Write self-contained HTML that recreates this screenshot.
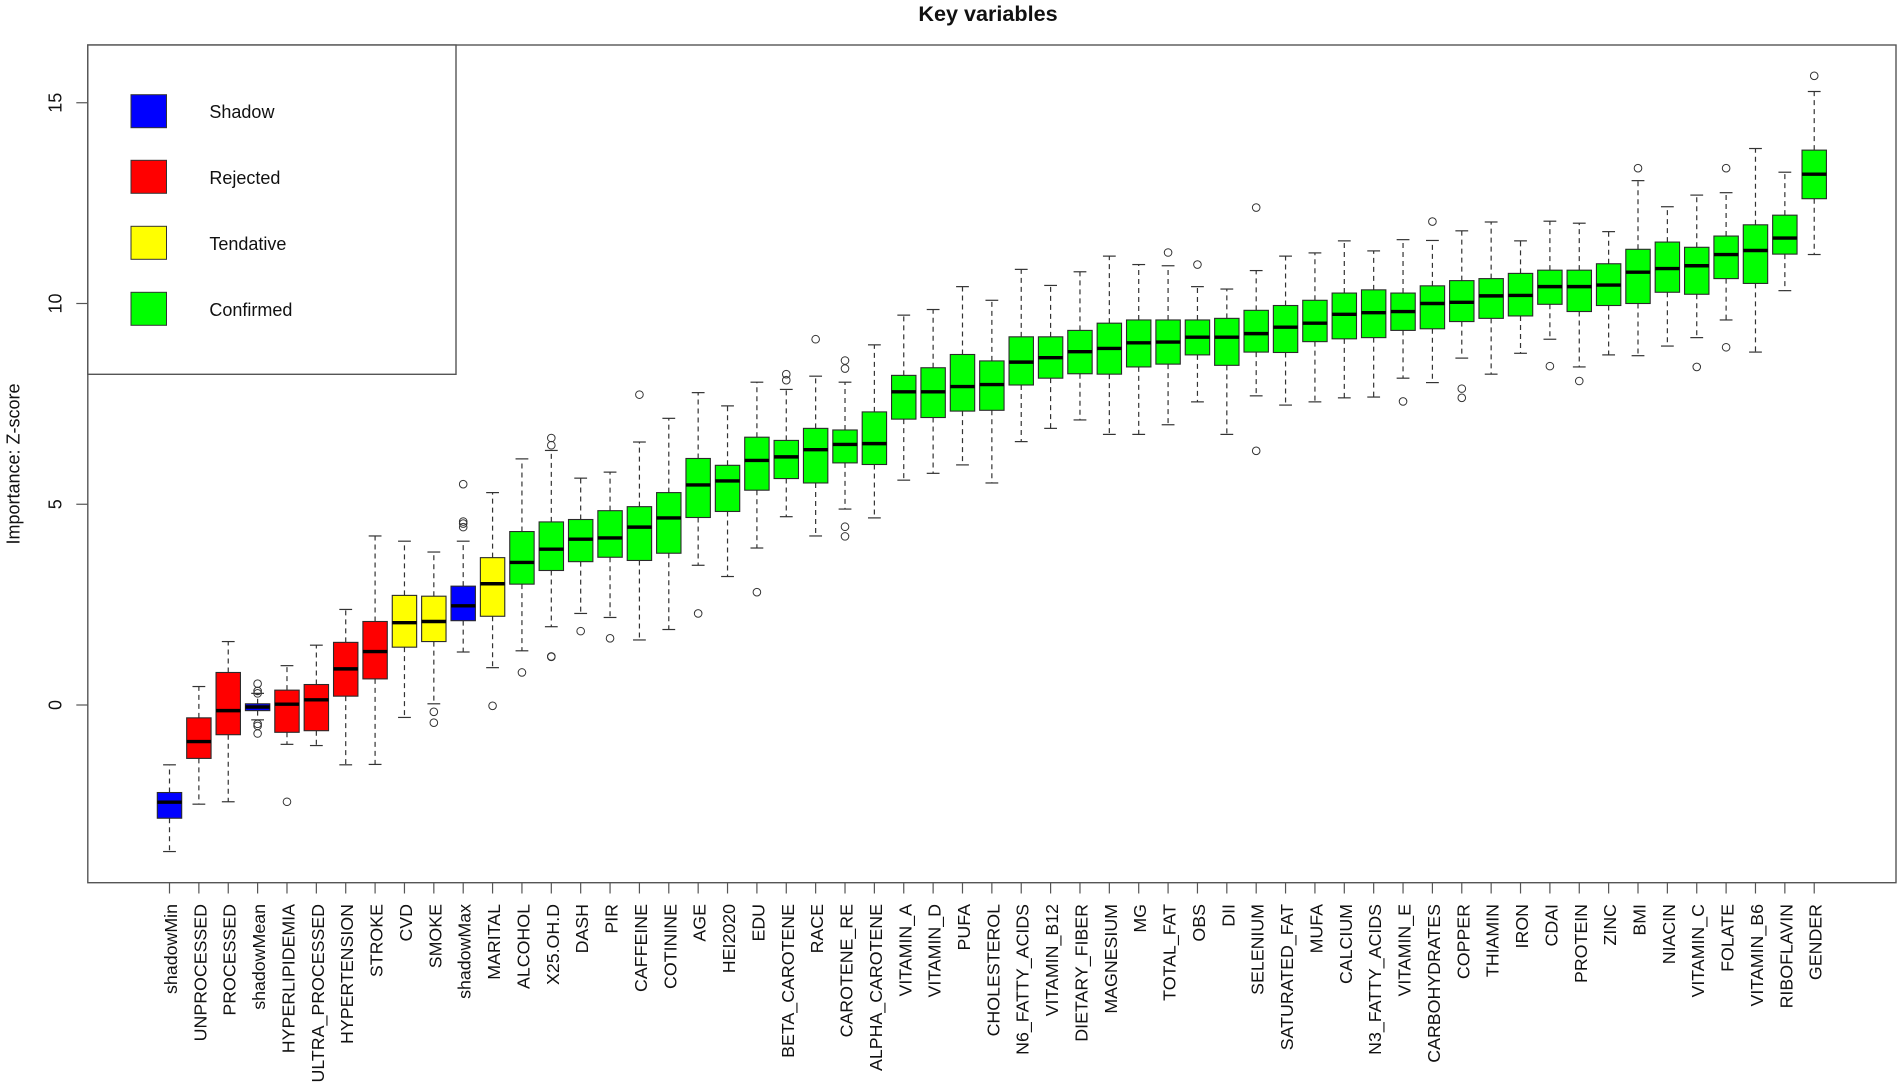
<!DOCTYPE html>
<html lang="en">
<head>
<meta charset="utf-8">
<title>Key variables</title>
<style>
html,body{margin:0;padding:0;background:#fff;}
svg{display:block;font-family:"Liberation Sans",Arial,sans-serif;filter:blur(0.3px);}
text{fill:#111;}
</style>
</head>
<body>
<svg id="chart" xmlns="http://www.w3.org/2000/svg" width="1902" height="1089" viewBox="0 0 1902 1089">
  <rect x="0" y="0" width="1902" height="1089" fill="#fff"/>
  <text x="988" y="21" font-size="21.6" font-weight="bold" text-anchor="middle">Key variables</text>
  <text transform="translate(19.5,464) rotate(-90)" font-size="18" text-anchor="middle">Importance: Z-score</text>
  <g id="marks"></g>
  <g id="y-axis"></g>
  <g id="x-axis"></g>
  <rect x="87.8" y="45" width="1808.2" height="837.7" fill="none" stroke="#555" stroke-width="1.4"/>
  <g>
    <rect x="87.8" y="45" width="368.2" height="329.3" fill="#fff" stroke="#555" stroke-width="1.4"/>
    <rect x="131" y="94.7" width="35.5" height="33" fill="#0000ff" stroke="#333" stroke-width="1"/>
    <text x="209.4" y="118" font-size="18">Shadow</text>
    <rect x="131" y="160.3" width="35.5" height="33" fill="#ff0000" stroke="#333" stroke-width="1"/>
    <text x="209.4" y="184" font-size="18">Rejected</text>
    <rect x="131" y="226.3" width="35.5" height="33" fill="#ffff00" stroke="#333" stroke-width="1"/>
    <text x="209.4" y="250" font-size="18">Tendative</text>
    <rect x="131" y="292.3" width="35.5" height="33" fill="#00ff00" stroke="#333" stroke-width="1"/>
    <text x="209.4" y="316" font-size="18">Confirmed</text>
  </g>
</svg>
<script>
const categories = ["shadowMin","UNPROCESSED","PROCESSED","shadowMean","HYPERLIPIDEMIA","ULTRA_PROCESSED","HYPERTENSION","STROKE","CVD","SMOKE","shadowMax","MARITAL","ALCOHOL","X25.OH.D","DASH","PIR","CAFFEINE","COTININE","AGE","HEI2020","EDU","BETA_CAROTENE","RACE","CAROTENE_RE","ALPHA_CAROTENE","VITAMIN_A","VITAMIN_D","PUFA","CHOLESTEROL","N6_FATTY_ACIDS","VITAMIN_B12","DIETARY_FIBER","MAGNESIUM","MG","TOTAL_FAT","OBS","DII","SELENIUM","SATURATED_FAT","MUFA","CALCIUM","N3_FATTY_ACIDS","VITAMIN_E","CARBOHYDRATES","COPPER","THIAMIN","IRON","CDAI","PROTEIN","ZINC","BMI","NIACIN","VITAMIN_C","FOLATE","VITAMIN_B6","RIBOFLAVIN","GENDER"];
const decisions = ["S","R","R","S","R","R","R","R","T","T","S","T","C","C","C","C","C","C","C","C","C","C","C","C","C","C","C","C","C","C","C","C","C","C","C","C","C","C","C","C","C","C","C","C","C","C","C","C","C","C","C","C","C","C","C","C","C"];
const whiskerLow = [-3.65,-2.47,-2.41,-0.37,-0.98,-1.01,-1.49,-1.48,-0.31,0.03,1.32,0.93,1.35,1.95,2.28,2.18,1.62,1.88,3.48,3.20,3.91,4.69,4.21,4.88,4.66,5.60,5.77,5.98,5.53,6.56,6.89,7.10,6.74,6.74,6.98,7.55,6.74,7.70,7.47,7.55,7.65,7.67,8.14,8.03,8.64,8.24,8.76,9.11,8.42,8.72,8.70,8.94,9.15,9.59,8.79,10.32,11.22];
const quartile1 = [-2.82,-1.33,-0.74,-0.14,-0.68,-0.64,0.22,0.65,1.44,1.58,2.10,2.21,3.01,3.35,3.57,3.68,3.60,3.78,4.67,4.82,5.35,5.64,5.53,6.03,5.99,7.12,7.16,7.32,7.34,7.97,8.14,8.25,8.24,8.42,8.49,8.72,8.46,8.79,8.78,9.05,9.12,9.15,9.33,9.37,9.55,9.63,9.69,9.98,9.80,9.95,10.00,10.28,10.23,10.62,10.50,11.23,12.61];
const medians = [-2.42,-0.91,-0.14,-0.05,0.02,0.13,0.90,1.33,2.05,2.08,2.47,3.02,3.55,3.88,4.13,4.16,4.43,4.66,5.48,5.58,6.09,6.18,6.36,6.49,6.51,7.80,7.80,7.93,7.98,8.54,8.65,8.80,8.88,9.02,9.04,9.16,9.16,9.25,9.41,9.51,9.73,9.77,9.80,10.00,10.03,10.19,10.20,10.42,10.42,10.46,10.78,10.87,10.94,11.22,11.32,11.63,13.22];
const quartile3 = [-2.18,-0.32,0.81,0.03,0.37,0.51,1.56,2.08,2.73,2.71,2.96,3.67,4.32,4.56,4.62,4.84,4.94,5.29,6.14,5.97,6.67,6.59,6.89,6.85,7.30,8.21,8.40,8.73,8.57,9.17,9.17,9.33,9.51,9.59,9.59,9.59,9.63,9.83,9.95,10.08,10.26,10.34,10.26,10.44,10.57,10.62,10.75,10.83,10.83,10.99,11.35,11.53,11.40,11.68,11.96,12.20,13.82];
const whiskerHigh = [-1.49,0.46,1.58,0.29,0.98,1.49,2.38,4.21,4.08,3.81,4.08,5.29,6.13,6.34,5.65,5.80,6.55,7.14,7.78,7.45,8.04,7.86,8.19,8.04,8.97,9.71,9.85,10.42,10.08,10.85,10.45,10.79,11.18,10.97,10.94,10.42,10.36,10.82,11.18,11.26,11.56,11.31,11.59,11.57,11.81,12.03,11.56,12.05,12.00,11.79,13.06,12.41,12.70,12.76,13.86,13.27,15.28];
const outliers = {
  "shadowMean":[0.53,0.35,0.29,-0.47,-0.52,-0.71],
  "HYPERLIPIDEMIA":[-2.41],
  "SMOKE":[-0.17,-0.44],
  "shadowMax":[5.50,4.57,4.52,4.43],
  "MARITAL":[-0.02],
  "ALCOHOL":[0.81],
  "X25.OH.D":[6.65,6.47,1.20,1.21],
  "DASH":[1.84],
  "PIR":[1.66],
  "CAFFEINE":[7.73],
  "AGE":[2.28],
  "EDU":[2.81],
  "BETA_CAROTENE":[8.24,8.09],
  "RACE":[9.11],
  "CAROTENE_RE":[8.58,8.38,4.44,4.20],
  "TOTAL_FAT":[11.27],
  "OBS":[10.97],
  "SELENIUM":[12.39,6.33],
  "VITAMIN_E":[7.56],
  "CARBOHYDRATES":[12.04],
  "COPPER":[7.88,7.65],
  "CDAI":[8.44],
  "PROTEIN":[8.07],
  "BMI":[13.37],
  "VITAMIN_C":[8.42],
  "FOLATE":[13.37,8.91],
  "GENDER":[15.67]
};
const yTicks = [0,5,10,15];
const decisionColors = {S:"#0000ff",R:"#ff0000",T:"#ffff00",C:"#00ff00"};

const NS = "http://www.w3.org/2000/svg";
function xScale(i){ return 169.5 + i * 29.37; }
function yScale(v){ return 705 - 40.15 * v; }
function make(parent, tag, attrs){
  const el = document.createElementNS(NS, tag);
  for (const k in attrs) el.setAttribute(k, attrs[k]);
  parent.appendChild(el);
  return el;
}

const marks = document.getElementById("marks");
const yAxis = document.getElementById("y-axis");
const xAxis = document.getElementById("x-axis");
const INK = "#2a2a2a";
const BOX_HALF = 12.2;
const CAP_HALF = 6.4;

categories.forEach(function(name, i){
  const cx = xScale(i);
  const g = make(marks, "g", {});
  
  

  const stemUp = make(g, "line", {x1:cx, x2:cx, y1:yScale(quartile3[i]), y2:yScale(whiskerHigh[i]), stroke:"#333", "stroke-width":1.2, "stroke-dasharray":"5 4"});
  
  

  const stemDown = make(g, "line", {x1:cx, x2:cx, y1:yScale(quartile1[i]), y2:yScale(whiskerLow[i]), stroke:"#333", "stroke-width":1.2, "stroke-dasharray":"5 4"});
  
  

  const capUp = make(g, "line", {x1:cx-CAP_HALF, x2:cx+CAP_HALF, y1:yScale(whiskerHigh[i]), y2:yScale(whiskerHigh[i]), stroke:"#333", "stroke-width":1.2});
  
  

  const capDown = make(g, "line", {x1:cx-CAP_HALF, x2:cx+CAP_HALF, y1:yScale(whiskerLow[i]), y2:yScale(whiskerLow[i]), stroke:"#333", "stroke-width":1.2});
  
  

  const box = make(g, "rect", {x:cx-BOX_HALF, width:BOX_HALF*2, y:yScale(quartile3[i]), height:yScale(quartile1[i])-yScale(quartile3[i]), fill:decisionColors[decisions[i]], stroke:INK, "stroke-width":1.1});
  
  

  const med = make(g, "line", {x1:cx-BOX_HALF, x2:cx+BOX_HALF, y1:yScale(medians[i]), y2:yScale(medians[i]), stroke:"#000", "stroke-width":3.4});
  
  

  (outliers[name] || []).forEach(function(v){
    const pt = make(g, "circle", {cx:cx, cy:yScale(v), r:3.8, fill:"none", stroke:"#333", "stroke-width":1});
    
    
  });

  const tick = make(xAxis, "line", {x1:cx, x2:cx, y1:882.7, y2:893.5, stroke:"#555", "stroke-width":1.2});
  
  

  const label = make(xAxis, "text", {transform:"translate(" + (cx + 7.5) + ",904) rotate(-90)", "font-size":17.8, "text-anchor":"end"});
  
  
  label.textContent = name;
});

yTicks.forEach(function(v){
  const y = yScale(v);
  const tick = make(yAxis, "line", {x1:76.3, x2:87.8, y1:y, y2:y, stroke:"#555", "stroke-width":1.2});
  
  

  const label = make(yAxis, "text", {transform:"translate(61.5," + y + ") rotate(-90)", "font-size":18, "text-anchor":"middle"});
  
  
  label.textContent = String(v);
});
</script>
</body>
</html>
